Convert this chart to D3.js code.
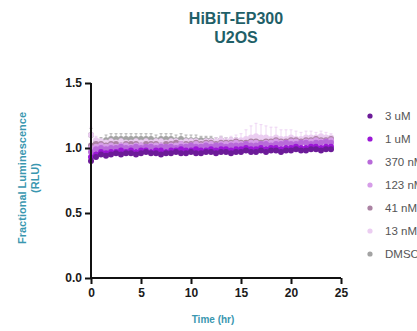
<!DOCTYPE html>
<html>
<head>
<meta charset="utf-8">
<script src="https://cdn.jsdelivr.net/npm/d3@7"></script>
<style>
  body { margin: 0; background: #fff; overflow: hidden; }
  svg { font-family: "Liberation Sans", Arial, sans-serif; }
</style>
</head>
<body>
<div id="chart"></div>
<script>
// time points (hr)
const times = [0,0.5,1,1.5,2,2.5,3,3.5,4,4.5,5,5.5,6,6.5,7,7.5,8,8.5,9,9.5,10,10.5,11,11.5,12,
  12.5,13,13.5,14,14.5,15,15.5,16,16.5,17,17.5,18,18.5,19,19.5,20,20.5,21,21.5,22,22.5,23,23.5,24];

const c3uM = [0.90,0.93,0.95,0.94,0.95,0.96,0.95,0.96,0.96,0.95,
  0.96,0.97,0.96,0.96,0.95,0.96,0.96,0.97,0.96,0.96,
  0.97,0.96,0.96,0.97,0.97,0.96,0.97,0.97,0.96,0.97,
  0.97,0.98,0.97,0.97,0.98,0.97,0.98,0.98,0.97,0.98,
  0.98,0.99,0.98,0.98,0.99,0.99,0.98,0.99,0.99];
const c1uM = [0.93,0.95,0.97,0.96,0.97,0.97,0.98,0.97,0.98,0.97,
  0.98,0.98,0.97,0.98,0.98,0.97,0.98,0.98,0.99,0.98,
  0.98,0.99,0.98,0.98,0.99,0.98,0.99,0.99,0.98,0.99,
  0.99,1.00,0.99,0.99,1.00,0.99,1.00,1.00,0.99,1.00,
  1.00,1.01,1.00,1.00,1.01,1.01,1.00,1.01,1.01];
const c370nM = [0.97,0.99,1.00,0.99,1.00,1.00,1.01,1.00,1.00,1.01,
  1.00,1.01,1.01,1.00,1.01,1.01,1.01,1.00,1.01,1.01,
  1.02,1.01,1.01,1.02,1.01,1.02,1.02,1.01,1.02,1.02,
  1.02,1.03,1.02,1.02,1.03,1.03,1.02,1.03,1.03,1.04,
  1.03,1.03,1.04,1.04,1.03,1.04,1.04,1.05,1.04];
const c123nM = [1.00,1.01,1.02,1.01,1.02,1.01,1.02,1.02,1.01,1.02,
  1.02,1.01,1.02,1.02,1.02,1.01,1.02,1.02,1.03,1.02,
  1.02,1.03,1.02,1.03,1.03,1.02,1.03,1.03,1.03,1.04,
  1.03,1.03,1.04,1.04,1.03,1.04,1.04,1.05,1.04,1.04,
  1.05,1.05,1.04,1.05,1.05,1.06,1.05,1.05,1.06];
const c41nM = [1.02,1.03,1.03,1.02,1.03,1.03,1.02,1.03,1.03,1.03,
  1.02,1.03,1.03,1.03,1.02,1.03,1.03,1.04,1.03,1.03,
  1.03,1.04,1.03,1.04,1.04,1.03,1.04,1.04,1.04,1.05,
  1.04,1.04,1.05,1.05,1.04,1.05,1.05,1.06,1.05,1.05,
  1.06,1.06,1.05,1.06,1.06,1.07,1.06,1.06,1.07];
const c13nM = [1.10,1.06,1.05,1.04,1.05,1.04,1.05,1.04,1.04,1.05,
  1.04,1.05,1.04,1.05,1.05,1.04,1.05,1.05,1.04,1.05,
  1.05,1.05,1.04,1.05,1.05,1.05,1.06,1.05,1.06,1.06,
  1.06,1.07,1.08,1.09,1.08,1.08,1.07,1.08,1.07,1.07,
  1.08,1.07,1.07,1.08,1.08,1.08,1.09,1.08,1.08];
const sd13nM = [0.06,0.03,0.02,0.02,0.02,0.02,0.02,0.02,0.02,0.02,
  0.02,0.02,0.02,0.02,0.02,0.02,0.02,0.02,0.02,0.02,
  0.02,0.02,0.02,0.02,0.02,0.03,0.03,0.03,0.03,0.04,
  0.05,0.07,0.09,0.10,0.10,0.09,0.09,0.08,0.07,0.07,
  0.06,0.06,0.05,0.05,0.05,0.04,0.04,0.04,0.03];
const cDMSO = [1.10,1.04,1.05,1.06,1.07,1.07,1.07,1.07,1.07,1.07,
  1.07,1.07,1.07,1.06,1.07,1.07,1.07,1.06,1.07,1.06,
  1.06,1.06,1.06,1.06,1.06,1.05,1.06,1.05,1.05,1.05,
  1.05,1.05,1.05,1.05,1.05,1.05,1.05,1.05,1.06,1.05,
  1.05,1.06,1.05,1.05,1.06,1.06,1.06,1.06,1.07];
const sdDMSO = [0.05,0.03,0.03,0.04,0.04,0.04,0.04,0.04,0.04,0.04,
  0.04,0.04,0.04,0.04,0.04,0.04,0.04,0.04,0.04,0.04,
  0.04,0.04,0.03,0.03,0.03,0.03,0.03,0.03,0.03,0.03,
  0.02,0.02,0.02,0.02,0.02,0.02,0.02,0.02,0.02,0.02,
  0.02,0.02,0.02,0.02,0.02,0.02,0.02,0.02,0.02];

const xTicks = [0, 5, 10, 15, 20, 25];
const yTicks = [0, 0.5, 1.0, 1.5];

// drawing order: back to front
const series = [
  { name: "DMSO",   values: cDMSO,  sd: sdDMSO, color: "#a3a3a3" },
  { name: "13 nM",  values: c13nM,  sd: sd13nM, color: "#ebcdf1" },
  { name: "41 nM",  values: c41nM,  sd: null,   color: "#ab83a3" },
  { name: "123 nM", values: c123nM, sd: null,   color: "#d69de8" },
  { name: "370 nM", values: c370nM, sd: null,   color: "#b86ad9" },
  { name: "1 uM",   values: c1uM,   sd: null,   color: "#9b17d6" },
  { name: "3 uM",   values: c3uM,   sd: null,   color: "#6c1b98" }
];
const legendOrder = ["3 uM", "1 uM", "370 nM", "123 nM", "41 nM", "13 nM", "DMSO"];

const W = 417, H = 331;
const svg = d3.select("#chart")
  .append("svg")
  .attr("width", W)
  .attr("height", H);

const x = d3.scaleLinear().domain([0, 25]).range([91, 341]);
const y = d3.scaleLinear().domain([0, 1.5]).range([278, 83]);

const titleColor = "#1f6068";
const labelColor = "#3a97b0";

// title
svg.append("text")
  .attr("x", 236).attr("y", 24)
  .attr("text-anchor", "middle")
  .style("font-size", "16px").style("font-weight", "bold")
  .attr("fill", titleColor)
  .text("HiBiT-EP300");
svg.append("text")
  .attr("x", 236).attr("y", 43)
  .attr("text-anchor", "middle")
  .style("font-size", "16px").style("font-weight", "bold")
  .attr("fill", titleColor)
  .text("U2OS");

// data
series.forEach(s => {
  const g = svg.append("g");
  if (s.sd) {
    const eb = g.selectAll("g.eb")
      .data(times.map((t, i) => ({ t, v: s.values[i], e: s.sd[i] })))
      .enter().append("g");
    eb.append("line")
      .attr("x1", d => x(d.t)).attr("x2", d => x(d.t))
      .attr("y1", d => y(d.v - d.e)).attr("y2", d => y(d.v + d.e))
      .attr("stroke", s.color).attr("stroke-width", 0.8);
    eb.append("line")
      .attr("x1", d => x(d.t) - 1.5).attr("x2", d => x(d.t) + 1.5)
      .attr("y1", d => y(d.v + d.e)).attr("y2", d => y(d.v + d.e))
      .attr("stroke", s.color).attr("stroke-width", 0.8);
  }
  g.selectAll("circle")
    .data(times.map((t, i) => ({ t, v: s.values[i] })))
    .enter().append("circle")
    .attr("cx", d => x(d.t))
    .attr("cy", d => y(d.v))
    .attr("r", 3)
    .attr("fill", s.color);
});

// axes
const xAxis = svg.append("g")
  .attr("transform", "translate(0,278)")
  .call(d3.axisBottom(x).tickValues(xTicks).tickSize(6).tickPadding(4).tickFormat(d3.format("d")));
const yAxis = svg.append("g")
  .attr("transform", "translate(91,0)")
  .call(d3.axisLeft(y).tickValues(yTicks).tickSize(6).tickPadding(3).tickFormat(d3.format(".1f")));

[xAxis, yAxis].forEach(a => {
  a.select(".domain").attr("stroke", "#111").attr("stroke-width", 2);
  a.selectAll(".tick line").attr("stroke", "#111").attr("stroke-width", 2);
  a.selectAll(".tick text")
    .attr("fill", "#1a1a1a")
    .style("font-size", "12px").style("font-weight", "bold")
    .style("font-family", "'Liberation Sans', Arial, sans-serif");
});
xAxis.select(".domain").attr("d", "M91,0H341");
yAxis.select(".domain").attr("d", "M0,83V278");

// axis labels
svg.append("text")
  .attr("x", 213).attr("y", 323)
  .attr("text-anchor", "middle")
  .style("font-size", "10px").style("font-weight", "bold")
  .attr("fill", labelColor)
  .text("Time (hr)");

svg.append("text")
  .attr("transform", "translate(26,178) rotate(-90)")
  .attr("text-anchor", "middle")
  .style("font-size", "11px").style("font-weight", "bold")
  .attr("fill", labelColor)
  .text("Fractional Luminescence");
svg.append("text")
  .attr("transform", "translate(39,178) rotate(-90)")
  .attr("text-anchor", "middle")
  .style("font-size", "11px").style("font-weight", "bold")
  .attr("fill", labelColor)
  .text("(RLU)");

// legend (labels run off the right edge, as in the original)
const legend = svg.append("g");
legendOrder.forEach((name, i) => {
  const s = series.find(d => d.name === name);
  const ly = 116 + i * 23;
  legend.append("circle")
    .attr("cx", 370).attr("cy", ly).attr("r", 2.6)
    .attr("fill", s.color);
  legend.append("text")
    .attr("x", 385).attr("y", ly + 4)
    .style("font-size", "11.5px")
    .attr("fill", "#555")
    .text(name);
});
</script>
</body>
</html>
